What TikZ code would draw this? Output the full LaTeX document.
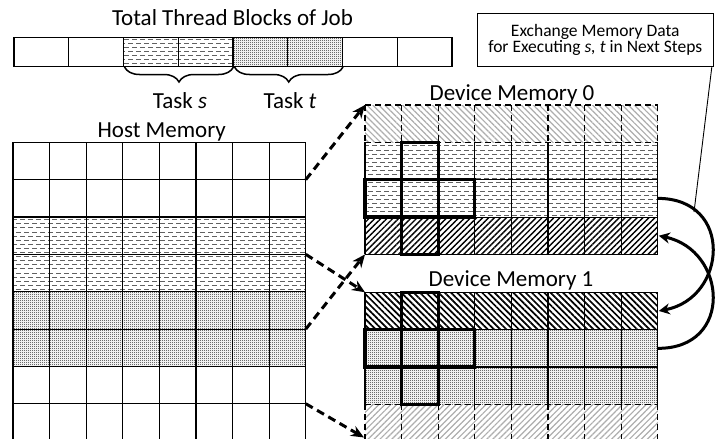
\documentclass[tikz,border=0pt]{standalone}
\usepackage{fontspec}
\setmainfont{Carlito}
\usetikzlibrary{patterns,patterns.meta,decorations.pathreplacing,arrows.meta}
\pgfdeclarepatternformonly{hdash}{\pgfqpoint{-1pt}{-1pt}}{\pgfqpoint{9pt}{9.2pt}}{\pgfqpoint{8pt}{8.2pt}}{%
  \pgfsetlinewidth{0.9pt}%
  \pgfpathmoveto{\pgfqpoint{0pt}{2pt}}\pgfpathlineto{\pgfqpoint{4.6pt}{2pt}}%
  \pgfpathmoveto{\pgfqpoint{4pt}{6.1pt}}\pgfpathlineto{\pgfqpoint{8.6pt}{6.1pt}}%
  \pgfusepath{stroke}}
\pgfdeclarepatternformonly{fdots}{\pgfqpoint{-0.5pt}{-0.5pt}}{\pgfqpoint{2.5pt}{2.5pt}}{\pgfqpoint{2pt}{2pt}}{%
  \pgfpathcircle{\pgfqpoint{0.5pt}{0.5pt}}{0.42pt}\pgfusepath{fill}}
\begin{document}
\begin{tikzpicture}[x=1pt,y=-1pt,
  big/.style={font=\fontsize{23}{27}\selectfont, inner sep=0pt, anchor=base},
  cell/.style={line width=1.1pt},
  dcell/.style={line width=1.1pt, dash pattern=on 6pt off 4pt},
  dashfill/.style={pattern=hdash, pattern color=black!62},
  dotfill/.style={preaction={fill=black!6}, pattern=fdots, pattern color=black!85},
  lighthatchNW/.style={pattern={Lines[angle=-45,distance=4.2pt,line width=1.2pt]}, pattern color=black!32},
  lighthatchNE/.style={pattern={Lines[angle=45,distance=4.2pt,line width=1.2pt]}, pattern color=black!32},
  darkhatchNE/.style={pattern={Lines[angle=45,distance=4.2pt,line width=1.4pt]}, pattern color=black},
  darkhatchNW/.style={pattern={Lines[angle=-45,distance=4.4pt,line width=1.7pt]}, pattern color=black},
  thickbox/.style={line width=3.3pt},
  moveline/.style={line width=3pt, dash pattern=on 8pt off 5pt, -{Stealth[length=13pt,width=11pt]}},
  swapline/.style={line width=3pt, -{Stealth[length=11pt,width=11pt]}},
]
\useasboundingbox (0,0) rectangle (715,439);
\clip (0,0) rectangle (715,439);
\pgfmathsetmacro{\cw}{36.6}
\pgfmathsetmacro{\ch}{37.35}
\pgfmathsetmacro{\bw}{54.75}

% ---------- top bar ----------
\node[big] (title) at (232.5,25) {Total Thread Blocks of Job};
\path[dashfill] (14+2*\bw,37.3) rectangle (14+4*\bw,66.7);
\path[dotfill] (14+4*\bw,37.3) rectangle (14+6*\bw,66.7);
\foreach \i in {0,...,8} \draw[cell] ({14+\i*\bw},37.3) -- ({14+\i*\bw},66.7);
\draw[cell] (14,37.3) -- (14+8*\bw,37.3) (14,66.7) -- (14+8*\bw,66.7);
\coordinate (bs1) at (124.5,67);
\coordinate (bs2) at (233.5,67);
\coordinate (bt1) at (234.5,67);
\coordinate (bt2) at (343,67);
\draw[line width=1.5pt, decorate, decoration={brace, mirror, amplitude=15pt}] (bs1) -- (bs2);
\draw[line width=1.5pt, decorate, decoration={brace, mirror, amplitude=15pt}] (bt1) -- (bt2);
\node[big] (tasks) at (180,108) {Task \textit{s}};
\node[big] (taskt) at (290,108) {Task \textit{t}};

% ---------- host memory ----------
\node[big] (hostlabel) at (161.7,137) {Host Memory};
\path[dashfill] (13,142.3+2*\ch) rectangle (13+8*\cw,142.3+4*\ch);
\path[dotfill] (13,142.3+4*\ch) rectangle (13+8*\cw,142.3+6*\ch);
\foreach \i in {0,...,8} \draw[cell] ({13+\i*\cw},142.3) -- ({13+\i*\cw},142.3+8*\ch);
\foreach \j in {0,...,8} \draw[cell] (13,{142.3+\j*\ch}) -- (13+8*\cw,{142.3+\j*\ch});
\coordinate (h1) at (13+8*\cw,142.3+1*\ch);
\coordinate (h2) at (13+8*\cw,142.3+3*\ch);
\coordinate (h3) at (13+8*\cw,142.3+5*\ch);
\coordinate (h4) at (13+8*\cw,142.3+7*\ch);

% ---------- device memory 0 ----------
\node[big] (dev0label) at (512,100.7) {Device Memory 0};
\path[lighthatchNW] (365,105) rectangle (365+8*\cw,105+\ch);
\path[dashfill] (365,105+\ch) rectangle (365+8*\cw,105+3*\ch);
\path[darkhatchNE] (365,105+3*\ch) rectangle (365+8*\cw,105+4*\ch);
\foreach \i in {0,...,8} {
  \draw[dcell] ({365+\i*\cw},105) -- ({365+\i*\cw},105+\ch);
  \draw[cell] ({365+\i*\cw},105+\ch) -- ({365+\i*\cw},105+4*\ch);
}
\draw[dcell] (365,105) -- (365+8*\cw,105) (365,105+\ch) -- (365+8*\cw,105+\ch);
\foreach \j in {2,3,4} \draw[cell] (365,{105+\j*\ch}) -- (365+8*\cw,{105+\j*\ch});
\draw[thickbox] (365+\cw,105+\ch) rectangle (365+2*\cw,105+4*\ch);
\draw[thickbox] (365,105+2*\ch) rectangle (365+3*\cw,105+3*\ch);
\coordinate (d0tl) at (365,105);
\coordinate (d0bl) at (365,105+4*\ch);
\coordinate (d0r2) at (365+8*\cw,105+2.5*\ch);
\coordinate (d0r3) at (366+8*\cw,105+3.5*\ch);

% ---------- device memory 1 ----------
\node[big] (dev1label) at (511,286.7) {Device Memory 1};
\path[darkhatchNW] (365,292.3) rectangle (365+8*\cw,292.3+\ch);
\path[dotfill] (365,292.3+\ch) rectangle (365+8*\cw,292.3+3*\ch);
\path[lighthatchNE] (365,292.3+3*\ch) rectangle (365+8*\cw,292.3+4*\ch);
\foreach \i in {0,...,8} {
  \draw[cell] ({365+\i*\cw},292.3) -- ({365+\i*\cw},292.3+3*\ch);
  \draw[dcell] ({365+\i*\cw},292.3+3*\ch) -- ({365+\i*\cw},292.3+4*\ch);
}
\foreach \j in {0,1,2} \draw[cell] (365,{292.3+\j*\ch}) -- (365+8*\cw,{292.3+\j*\ch});
\draw[dcell] (365,292.3+3*\ch) -- (365+8*\cw,292.3+3*\ch);
\draw[thickbox] (365+\cw,292.3) rectangle (365+2*\cw,292.3+3*\ch);
\draw[thickbox] (365,292.3+\ch) rectangle (365+3*\cw,292.3+2*\ch);
\coordinate (d1tl) at (365,292.3);
\coordinate (d1bl) at (364,437.5);
\coordinate (d1r0) at (366+8*\cw,292.3+0.5*\ch);
\coordinate (d1r1) at (365+8*\cw,292.3+1.5*\ch);

% ---------- host -> device arrows ----------
\draw[moveline] (h1) -- (d0tl);
\draw[moveline] (h2) -- (d1tl);
\draw[moveline] (h3) -- (d0bl);
\draw[moveline] (h4) -- (d1bl);

% ---------- exchange arrows ----------
\draw[swapline] (d0r2) .. controls (734,198.4) and (727,298) .. (d1r0);
\draw[swapline] (d1r1) .. controls (734,348.8) and (727,250) .. (d0r3);

% ---------- callout ----------
\node[draw, line width=1pt, minimum width=236pt, minimum height=53.4pt, inner sep=0pt,
      align=center, font=\fontsize{17.5}{16.5}\selectfont] (callout) at (595.3,40)
  {Exchange Memory Data\\for Executing \textit{s, t} in Next Steps};
\coordinate (cpt) at (694,212);
\draw[line width=0.9pt] ([xshift=-2pt]callout.south east) -- (cpt);
\end{tikzpicture}
\end{document}
